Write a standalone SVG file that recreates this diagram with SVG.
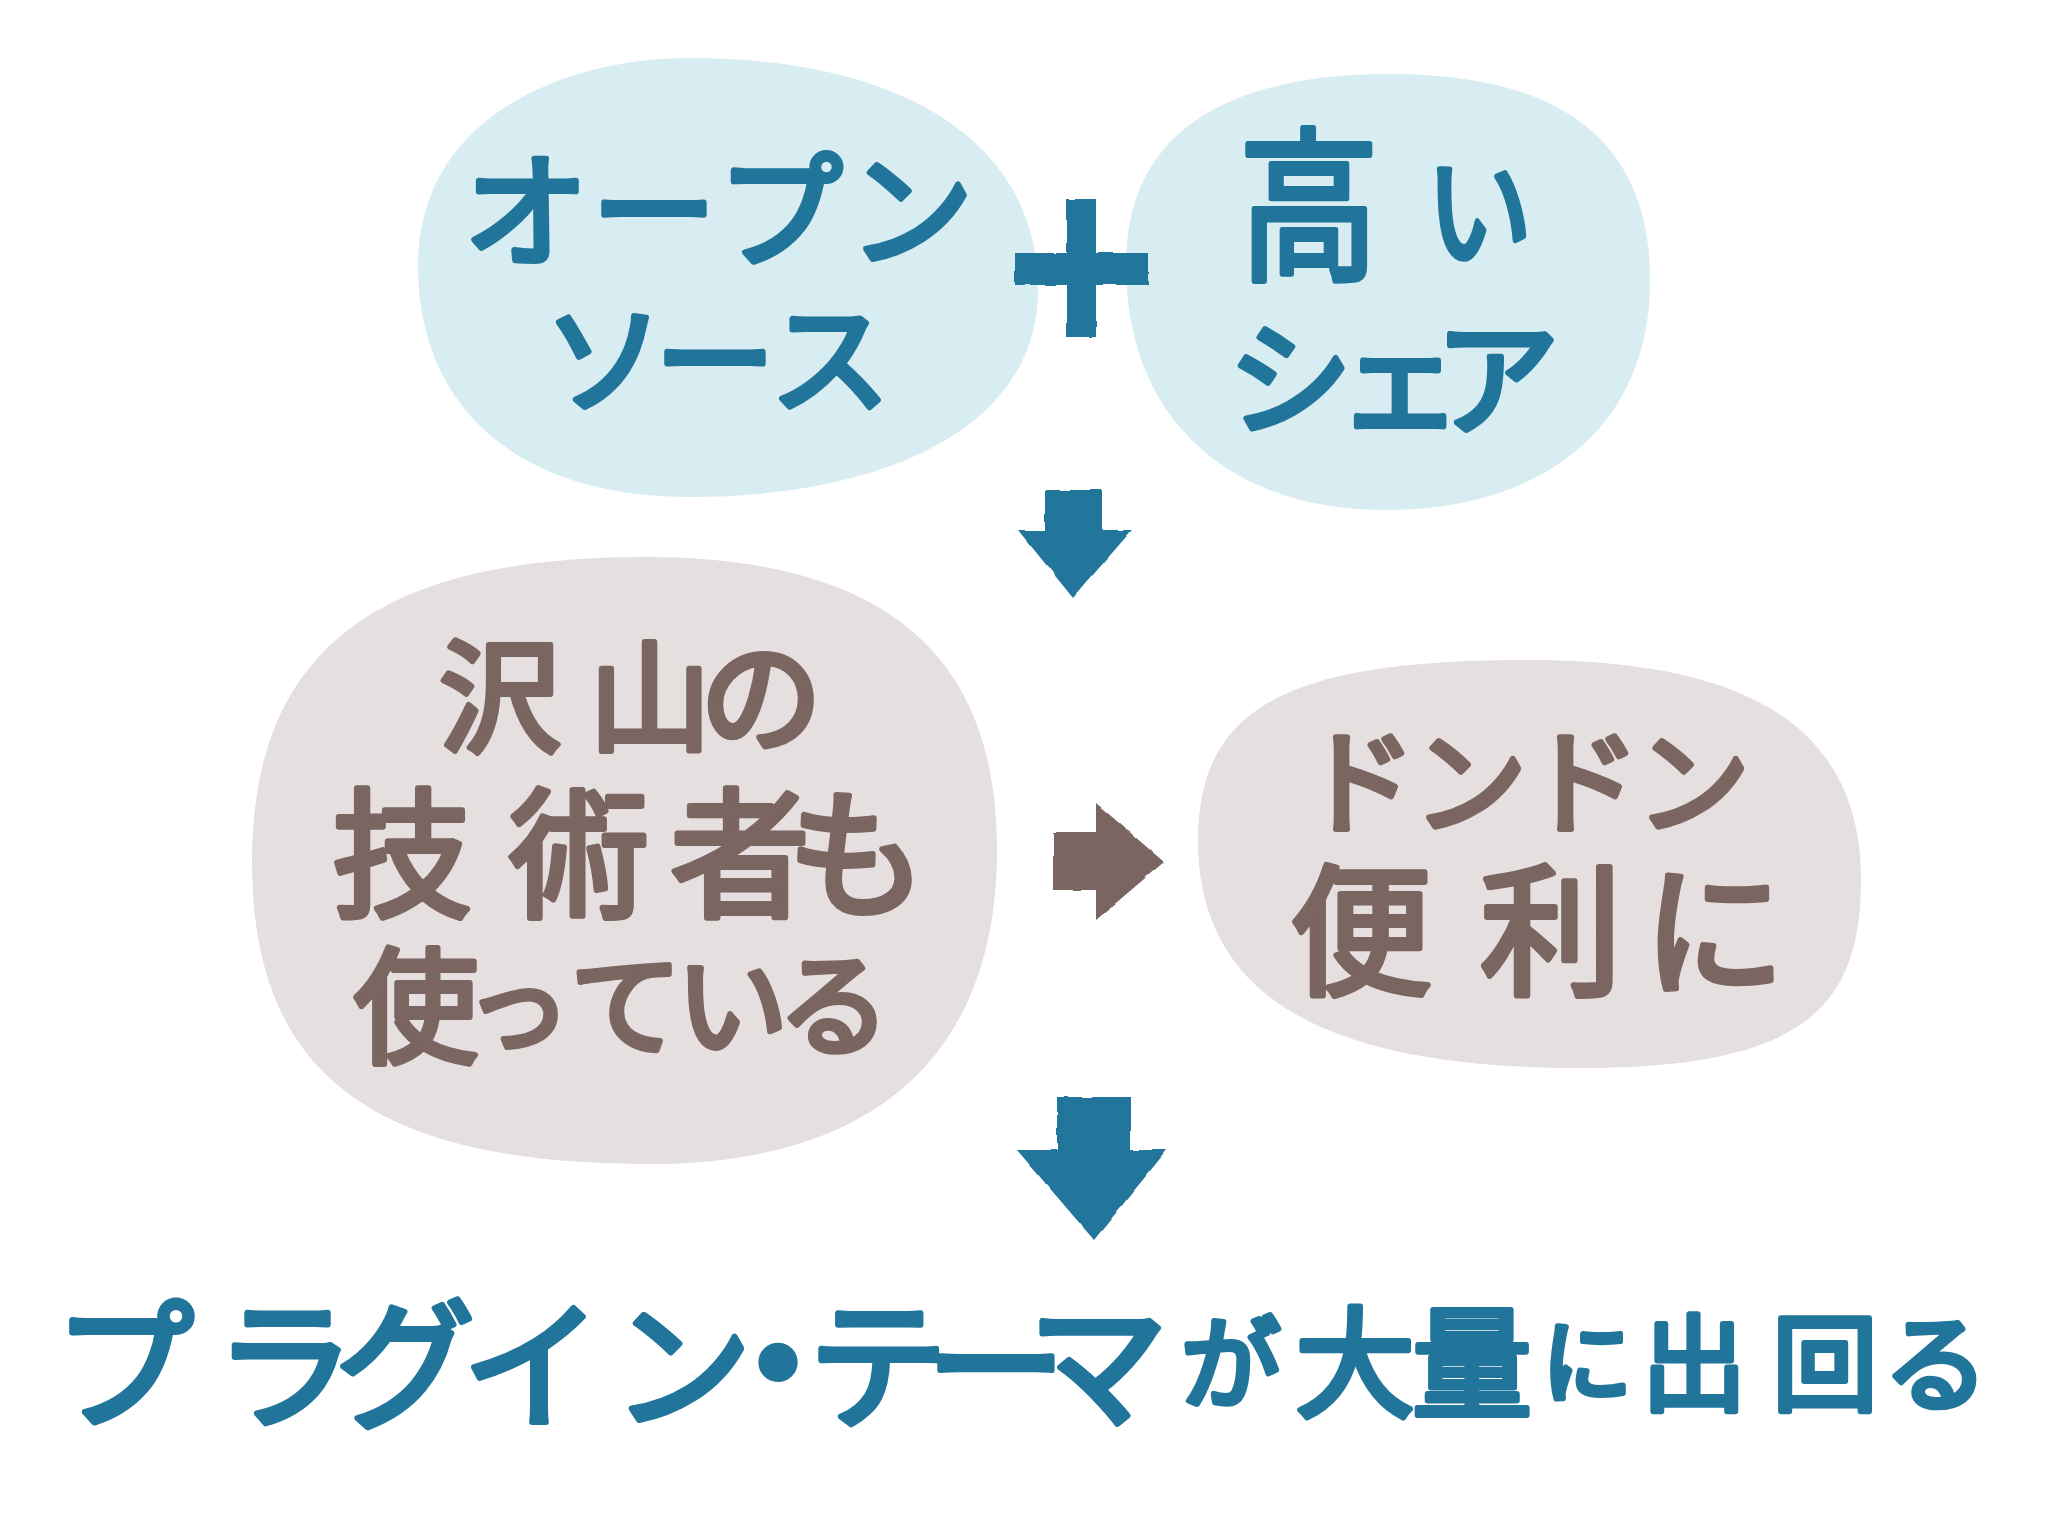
<svg xmlns="http://www.w3.org/2000/svg" width="2048" height="1536" viewBox="0 0 2048 1536">
<defs>
<style>
.blobB{fill:#d8edf1}
.blobP{fill:#e6dfe0}
.tB{fill:#21759b;stroke:#21759b}
.tP{fill:#7a6560;stroke:#7a6560}
.t{font-family:"Noto Sans CJK JP","Noto Sans CJK SC",sans-serif;font-weight:400;stroke-width:6;stroke-linejoin:round;stroke-linecap:round;text-anchor:middle;dominant-baseline:central}
.arB{fill:#21759b}
.arP{fill:#7a6560}
</style>
<filter id="rough" x="-10%" y="-10%" width="120%" height="120%">
<feTurbulence type="fractalNoise" baseFrequency="0.05" numOctaves="2" seed="3"/>
<feDisplacementMap in="SourceGraphic" scale="3" xChannelSelector="R" yChannelSelector="G"/>
</filter>
</defs>
<rect width="2048" height="1536" fill="#ffffff"/>

<g id="node-opensource">
<path class="blobB" d="M 418 265 C 418 120 560 58 690 58 C 900 58 1038 140 1038 290 C 1038 430 880 497 690 497 C 520 497 418 410 418 265 Z"/>
<text class="t tB" font-size="125" y="202" x="526 654 780 911">オープン</text>
<text class="t tB" font-size="120" y="352" x="604 715 830">ソース</text>
</g>

<g id="node-share">
<path class="blobB" d="M 1126 265 C 1126 130 1230 74 1390 74 C 1560 74 1650 140 1650 280 C 1650 430 1540 510 1385 510 C 1230 510 1126 420 1126 265 Z"/>
<text class="t tB" transform="scale(0.85 1)"><tspan x="1540" y="195" font-size="165">高</tspan><tspan x="1740" y="202" font-size="125">い</tspan></text>
<text class="t tB" font-size="125" y="370" x="1290 1400 1497">シェア</text>
</g>

<g id="node-engineers">
<path class="blobP" d="M 252 862 C 252 640 390 557 645 557 C 880 557 997 650 997 850 C 997 1050 880 1164 650 1164 C 380 1164 252 1080 252 862 Z"/>
<text class="t tP" font-size="122" y="688" x="500 650 761">沢山の</text>
<text class="t tP" font-size="140" y="845" x="402 579 740 857">技術者も</text>
<text class="t tP" y="998"><tspan x="416" font-size="125">使</tspan><tspan x="518" font-size="105">っ</tspan><tspan x="626 732 834" font-size="112">ている</tspan></text>
</g>

<g id="node-convenient">
<path class="blobP" d="M 1198 840 C 1198 700 1300 660 1530 660 C 1780 660 1861 750 1861 880 C 1861 1010 1800 1068 1580 1068 C 1330 1068 1198 1000 1198 840 Z"/>
<text class="t tP" font-size="114" y="774" x="1359 1470 1583 1693">ドンドン</text>
<text class="t tP" font-size="142" y="922" x="1361 1551 1714">便利に</text>
</g>

<g id="plus" filter="url(#rough)">
<rect class="arB" x="1067" y="199" width="29" height="138"/>
<rect class="arB" x="1015" y="253" width="133" height="32"/>
</g>

<g id="connectors" filter="url(#rough)">
<path class="arB" d="M 1045 490 L 1102 490 L 1102 530 L 1132 530 L 1073 598 L 1018 530 L 1045 530 Z"/>
<path class="arP" d="M 1053 832 L 1096 832 L 1096 803 L 1164 862 L 1096 920 L 1096 890 L 1053 890 Z"/>
<path class="arB" d="M 1057 1097 L 1131 1097 L 1131 1150 L 1167 1150 L 1094 1240 L 1017 1150 L 1057 1150 Z"/>
</g>

<g id="node-result">
<text class="t tB" y="1356"><tspan x="124 285 405 532 682" font-size="140">プラグイン</tspan><tspan x="778" font-size="110" stroke-width="16">・</tspan><tspan x="878 996 1098" font-size="140">テーマ</tspan><tspan x="1231" font-size="100">が</tspan><tspan x="1355 1472" font-size="120">大量</tspan><tspan x="1587" font-size="90">に</tspan><tspan x="1694 1825 1936" font-size="105">出回る</tspan></text>
</g>
</svg>
